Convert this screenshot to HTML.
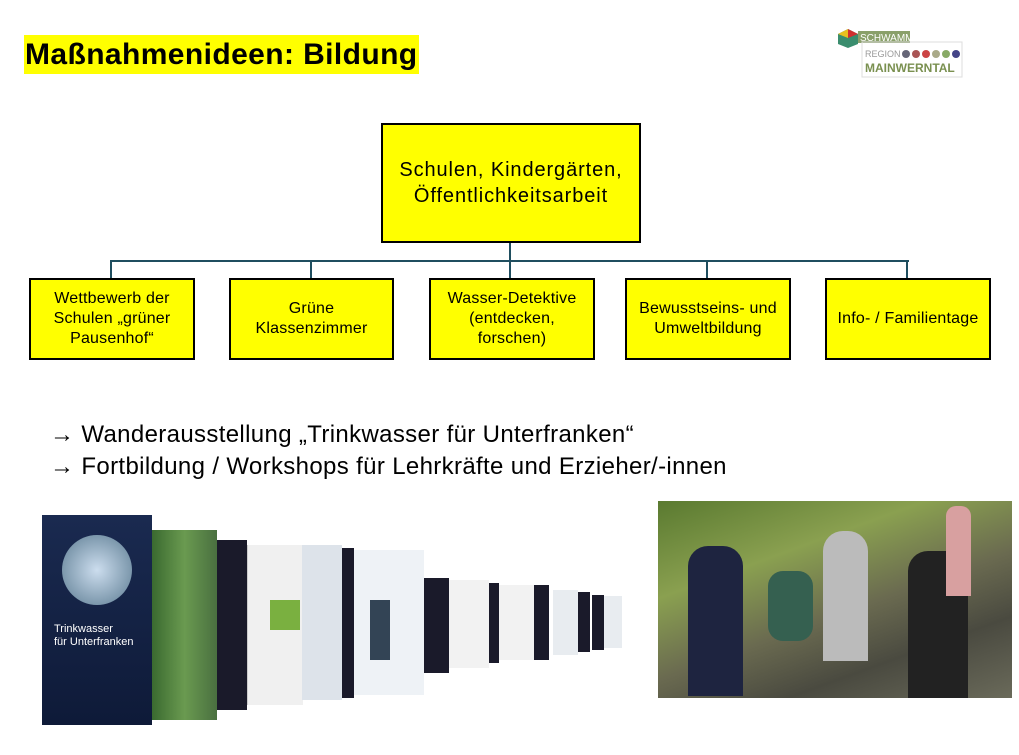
<!DOCTYPE html>
<html><head><meta charset="utf-8"><style>
body{margin:0;width:1019px;height:755px;background:#fff;position:relative;overflow:hidden;font-family:"Liberation Sans",sans-serif}
.a{position:absolute}
.box{position:absolute;background:#ffff00;border:2px solid #000;box-sizing:border-box;display:flex;align-items:center;justify-content:center;text-align:center;font-size:16px;letter-spacing:0.2px;line-height:20px;color:#000}
.ln{position:absolute;background:#1f4e5f}
</style></head><body>
<div class="a" style="left:24px;top:35px;width:395px;height:39px;background:#ffff00"></div>
<div class="a" style="left:25px;top:37px;font-size:30px;font-weight:bold;line-height:36px;letter-spacing:0.4px">Maßnahmenideen: Bildung</div>

<div class="a" style="left:836px;top:28px;width:128px;height:50px">
 <svg width="128" height="50"><polygon points="2,6 12,1 22,6 22,16 12,20 2,16" fill="#3a8d6e"/><polygon points="2,6 12,1 12,10" fill="#e8c020"/><polygon points="12,1 22,6 12,10" fill="#d03030"/>
 <rect x="22" y="3" width="52" height="12" fill="#8aa06a"/><text x="24" y="13" font-size="10" fill="#fff" font-family="Liberation Sans">SCHWAMM</text>
 <rect x="26" y="14" width="100" height="35" fill="none" stroke="#ddd"/><text x="29" y="29" font-size="9" fill="#999" font-family="Liberation Sans">REGION</text>
 <circle cx="70" cy="26" r="4" fill="#667"/><circle cx="80" cy="26" r="4" fill="#a55"/><circle cx="90" cy="26" r="4" fill="#c44"/><circle cx="100" cy="26" r="4" fill="#aa8"/><circle cx="110" cy="26" r="4" fill="#8a6"/><circle cx="120" cy="26" r="4" fill="#448"/>
 <text x="29" y="44" font-size="12" font-weight="bold" fill="#7a9050" font-family="Liberation Sans">MAINWERNTAL</text></svg>
</div>

<div class="box" style="left:381px;top:123px;width:260px;height:120px;font-size:20px;letter-spacing:0.9px;line-height:26px">Schulen, Kindergärten,<br>Öffentlichkeitsarbeit</div>
<div class="ln" style="left:509px;top:243px;width:2px;height:19px"></div>
<div class="ln" style="left:110px;top:260px;width:799px;height:2px"></div>
<div class="ln" style="left:110px;top:260px;width:2px;height:18px"></div>
<div class="ln" style="left:310px;top:260px;width:2px;height:18px"></div>
<div class="ln" style="left:509px;top:260px;width:2px;height:18px"></div>
<div class="ln" style="left:706px;top:260px;width:2px;height:18px"></div>
<div class="ln" style="left:906px;top:260px;width:2px;height:18px"></div>
<div class="box" style="left:29px;top:278px;width:166px;height:82px">Wettbewerb der<br>Schulen „grüner<br>Pausenhof“</div>
<div class="box" style="left:229px;top:278px;width:165px;height:82px">Grüne<br>Klassenzimmer</div>
<div class="box" style="left:429px;top:278px;width:166px;height:82px">Wasser-Detektive<br>(entdecken,<br>forschen)</div>
<div class="box" style="left:625px;top:278px;width:166px;height:82px">Bewusstseins- und<br>Umweltbildung</div>
<div class="box" style="left:825px;top:278px;width:166px;height:82px">Info- / Familientage</div>

<div class="a" style="left:50px;top:419px;font-size:24px;line-height:32px;letter-spacing:0.35px"><b>→</b> Wanderausstellung „Trinkwasser für Unterfranken“<br><b>→</b> Fortbildung / Workshops für Lehrkräfte und Erzieher/-innen</div>

<div class="a" style="left:42px;top:515px;width:110px;height:210px;background:linear-gradient(#1a2a50,#0e1a38)">
 <div class="a" style="left:20px;top:20px;width:70px;height:70px;border-radius:50%;background:radial-gradient(#cde,#5a7a90)"></div>
 <div class="a" style="left:12px;top:108px;color:#fff;font-size:11px;line-height:13px">Trinkwasser<br>für Unterfranken</div></div>
<div class="a" style="left:152px;top:530px;width:65px;height:190px;background:linear-gradient(90deg,#3a6a30,#6a9a50,#4a7040)"></div>
<div class="a" style="left:217px;top:540px;width:30px;height:170px;background:#1a1a2a"></div>
<div class="a" style="left:247px;top:545px;width:55px;height:160px;background:#f0f0f0;border-left:1px solid #ccc"></div>
<div class="a" style="left:270px;top:600px;width:30px;height:30px;background:#7ab040"></div>
<div class="a" style="left:302px;top:545px;width:40px;height:155px;background:#dde3ea"></div>
<div class="a" style="left:342px;top:548px;width:12px;height:150px;background:#1a1a2a"></div>
<div class="a" style="left:354px;top:550px;width:70px;height:145px;background:#eef2f6"></div>
<div class="a" style="left:370px;top:600px;width:20px;height:60px;background:#345"></div>
<div class="a" style="left:424px;top:578px;width:25px;height:95px;background:#1a1a2a"></div>
<div class="a" style="left:449px;top:580px;width:40px;height:88px;background:#f2f2f2"></div>
<div class="a" style="left:489px;top:583px;width:10px;height:80px;background:#1a1a2a"></div>
<div class="a" style="left:499px;top:585px;width:35px;height:75px;background:#f2f2f2"></div>
<div class="a" style="left:534px;top:585px;width:15px;height:75px;background:#1a1a2a"></div>
<div class="a" style="left:553px;top:590px;width:25px;height:65px;background:#e8ecf0"></div>
<div class="a" style="left:578px;top:592px;width:12px;height:60px;background:#1a1a2a"></div>
<div class="a" style="left:592px;top:595px;width:12px;height:55px;background:#1a1a2a"></div>
<div class="a" style="left:604px;top:596px;width:18px;height:52px;background:#e8ecf0"></div>

<div class="a" style="left:658px;top:501px;width:354px;height:197px;background:linear-gradient(160deg,#5a7a30 0%,#8aa050 30%,#6a6a50 55%,#4a4a40 75%,#6a6a5a 100%)">
 <div class="a" style="left:30px;top:45px;width:55px;height:150px;background:#1e2440;border-radius:20px 20px 0 0"></div>
 <div class="a" style="left:165px;top:30px;width:45px;height:130px;background:#bbb;border-radius:20px 20px 0 0"></div>
 <div class="a" style="left:250px;top:50px;width:60px;height:147px;background:#222;border-radius:20px 20px 0 0"></div>
 <div class="a" style="left:288px;top:5px;width:25px;height:90px;background:#d8a0a0;border-radius:10px 10px 0 0"></div>
 <div class="a" style="left:110px;top:70px;width:45px;height:70px;background:#356050;border-radius:15px"></div>
</div>
</body></html>
